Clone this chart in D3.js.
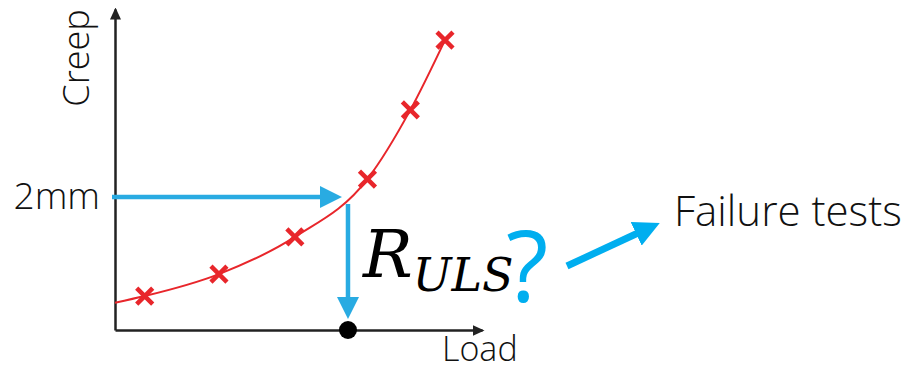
<!DOCTYPE html>
<html>
<head>
<meta charset="utf-8">
<script src="https://cdn.jsdelivr.net/npm/d3@7"></script>
<style>
  body { margin: 0; background: #fff; }
  svg { display: block; }
</style>
</head>
<body>
<div id="chart"></div>
<script>
// Creep test points (load in arbitrary units, creep in mm)
const loadValues = [0.9, 3.15, 5.45, 7.65, 8.95, 10.0];
const creepValues = [0.51, 0.84, 1.40, 2.27, 3.31, 4.36];
// where the fitted curve starts on the creep axis
const curveStartLoad = [0];
const curveStartCreep = [0.41];
// creep limit and the load it gives
const creepTicks = [2];
const creepTickLabels = ["2mm"];
const rulsLoad = [7.06];

const W = 914, H = 371;
const blue = "#29abe2", red = "#e8262b", ink = "#222";
const font = "'Open Sans', sans-serif";

const svg = d3.select("#chart").append("svg")
    .attr("width", W)
    .attr("height", H);

const x = d3.scaleLinear().domain([0, 10]).range([115, 445]);
const y = d3.scaleLinear().domain([0, 4.8]).range([330, 10.8]);

// arrow heads
const defs = svg.append("defs");
defs.append("marker")
    .attr("id", "axisHead")
    .attr("markerUnits", "userSpaceOnUse")
    .attr("viewBox", "0 0 12 12")
    .attr("refX", 10).attr("refY", 6)
    .attr("markerWidth", 12).attr("markerHeight", 12)
    .attr("orient", "auto")
    .append("path").attr("d", "M0,0.5L12,6L0,11.5Z").attr("fill", ink);

defs.append("marker")
    .attr("id", "blueHead")
    .attr("markerUnits", "userSpaceOnUse")
    .attr("viewBox", "0 0 22 22")
    .attr("refX", 2).attr("refY", 11)
    .attr("markerWidth", 22).attr("markerHeight", 22)
    .attr("orient", "auto")
    .append("path").attr("d", "M0,0L22,11L0,22Z").attr("fill", blue);

defs.append("marker")
    .attr("id", "blueHead2")
    .attr("markerUnits", "userSpaceOnUse")
    .attr("viewBox", "0 0 26 26")
    .attr("refX", 2).attr("refY", 13)
    .attr("markerWidth", 26).attr("markerHeight", 26)
    .attr("orient", "auto")
    .append("path").attr("d", "M0,0L26,13L0,26Z").attr("fill", "#00aeef");

// Axes
const yAxis = svg.append("g")
    .attr("transform", `translate(${x(0)},0)`)
    .call(d3.axisLeft(y.copy().range([330, 9])).tickValues(creepTicks).tickSize(0).tickPadding(15)
        .tickFormat((d, i) => creepTickLabels[i]));
yAxis.selectAll(".tick").attr("transform", d => `translate(0,${y(d) + 0.5})`);
yAxis.select(".domain").attr("stroke", ink).attr("stroke-width", 2.5)
    .attr("marker-end", "url(#axisHead)");
yAxis.selectAll("text")
    .attr("font-family", font)
    .attr("font-weight", 300)
    .attr("font-size", 37)
    .attr("fill", "#111");

// load axis runs a little past the last test point
const xAxis = svg.append("g")
    .attr("transform", `translate(0,${y(0)})`)
    .call(d3.axisBottom(x.copy().range([115, 482])).tickValues([]).tickSizeOuter(0));
xAxis.select(".domain").attr("stroke", ink).attr("stroke-width", 2.5)
    .attr("marker-end", "url(#axisHead)");

// axis titles
svg.append("text")
    .attr("transform", `translate(89,${y(4.09)}) rotate(-90)`)
    .attr("text-anchor", "middle")
    .attr("font-family", font)
    .attr("font-weight", 300)
    .attr("font-size", 36)
    .attr("fill", "#111")
    .text("Creep");

svg.append("text")
    .attr("x", 442)
    .attr("y", 361)
    .attr("font-family", font)
    .attr("font-weight", 300)
    .attr("font-size", 34)
    .attr("fill", "#111")
    .text("Load");

// fitted curve
const curvePts = curveStartLoad.map((l, i) => [l, curveStartCreep[i]])
    .concat(loadValues.map((l, i) => [l, creepValues[i]]));
svg.append("path")
    .datum(curvePts)
    .attr("fill", "none")
    .attr("stroke", red)
    .attr("stroke-width", 2)
    .attr("d", d3.line().x(d => x(d[0])).y(d => y(d[1])).curve(d3.curveMonotoneX));

// blue arrows (2mm -> curve -> load)
svg.append("line")
    .attr("x1", x(0) - 3).attr("y1", y(creepTicks[0]))
    .attr("x2", x(rulsLoad[0]) - 26).attr("y2", y(creepTicks[0]))
    .attr("stroke", blue).attr("stroke-width", 4.5)
    .attr("marker-end", "url(#blueHead)");

svg.append("line")
    .attr("x1", x(rulsLoad[0])).attr("y1", y(creepTicks[0]) + 7)
    .attr("x2", x(rulsLoad[0])).attr("y2", y(0) - 31)
    .attr("stroke", blue).attr("stroke-width", 4.5)
    .attr("marker-end", "url(#blueHead)");

// result on the load axis
svg.append("circle")
    .attr("cx", x(rulsLoad[0]))
    .attr("cy", y(0))
    .attr("r", 9)
    .attr("fill", "#000");

// test points
const pts = svg.append("g").selectAll("g")
    .data(loadValues.map((l, i) => [l, creepValues[i]]))
    .join("g")
    .attr("transform", d => `translate(${x(d[0])},${y(d[1])})`);
pts.append("path")
    .attr("d", "M-8,-8L8,8M-8,8L8,-8")
    .attr("stroke", red)
    .attr("stroke-width", 4.5)
    .attr("stroke-linecap", "butt");

// R_ULS label
const r = svg.append("text")
    .attr("x", 363)
    .attr("y", 277)
    .attr("font-family", "'DejaVu Serif', serif")
    .attr("font-style", "italic")
    .attr("fill", "#000");
r.append("tspan").attr("font-size", 66).text("R");
r.append("tspan").attr("font-size", 46).attr("dy", 14).text("ULS");

svg.append("text")
    .attr("x", 506)
    .attr("y", 302)
    .attr("font-family", font)
    .attr("font-size", 98)
    .attr("fill", "#00aeef")
    .text("?");

// pointer to failure tests
svg.append("line")
    .attr("x1", 567).attr("y1", 266)
    .attr("x2", 638).attr("y2", 233)
    .attr("stroke", "#00aeef").attr("stroke-width", 7)
    .attr("marker-end", "url(#blueHead2)");

svg.append("text")
    .attr("x", 674)
    .attr("y", 226)
    .attr("font-family", font)
    .attr("font-weight", 300)
    .attr("font-size", 42)
    .attr("fill", "#111")
    .text("Failure tests");
</script>
</body>
</html>
